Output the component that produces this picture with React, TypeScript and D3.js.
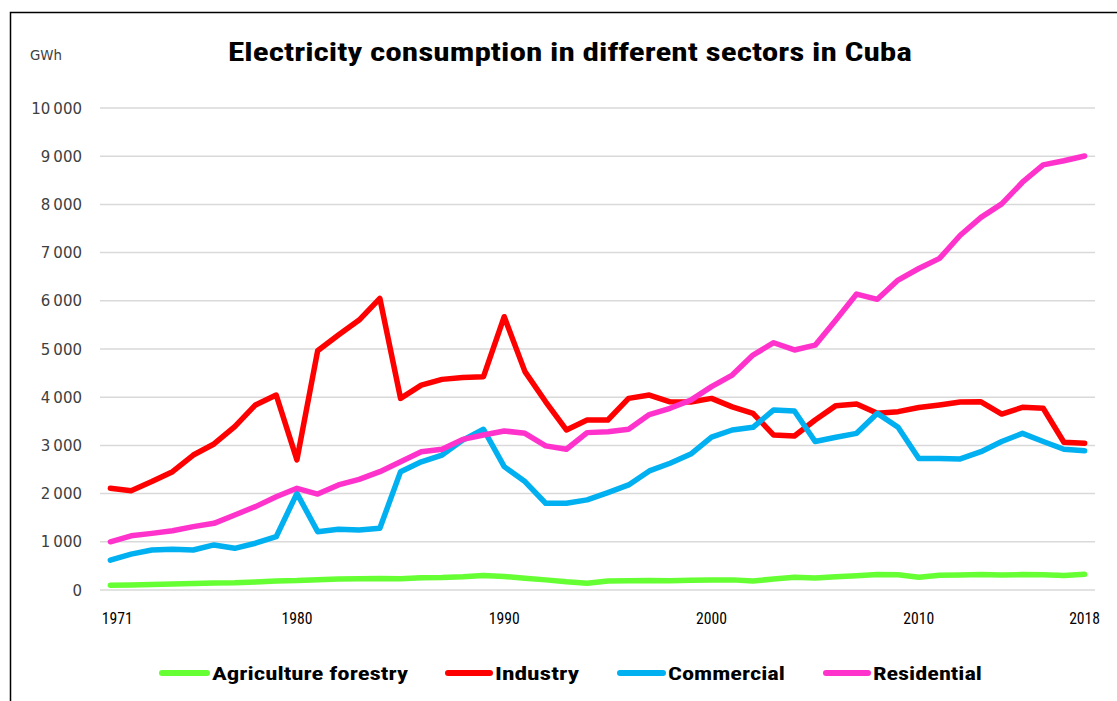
import React from "react";
import * as d3 from "d3";

const years = [1971, 1972, 1973, 1974, 1975, 1976, 1977, 1978, 1979, 1980, 1981, 1982, 1983, 1984, 1985, 1986, 1987, 1988, 1989, 1990, 1991, 1992, 1993, 1994, 1995, 1996, 1997, 1998, 1999, 2000, 2001, 2002, 2003, 2004, 2005, 2006, 2007, 2008, 2009, 2010, 2011, 2012, 2013, 2014, 2015, 2016, 2017, 2018];

const agriculture = [100, 105, 115, 125, 135, 145, 150, 165, 185, 195, 215, 230, 235, 240, 235, 255, 260, 275, 300, 280, 245, 210, 170, 140, 185, 190, 195, 190, 200, 205, 210, 185, 230, 265, 250, 275, 295, 320, 315, 265, 305, 310, 320, 310, 320, 315, 300, 325];

const industry = [2110, 2060, 2250, 2455, 2800, 3030, 3390, 3840, 4045, 2700, 4965, 5290, 5600, 6050, 3975, 4250, 4370, 4410, 4425, 5670, 4530, 3905, 3320, 3527, 3527, 3975, 4045, 3905, 3900, 3975, 3800, 3665, 3215, 3195, 3527, 3825, 3860, 3665, 3700, 3785, 3840, 3900, 3905, 3650, 3790, 3770, 3065, 3045];

const commercial = [620, 745, 830, 845, 830, 935, 865, 970, 1105, 2005, 1210, 1260, 1245, 1280, 2455, 2660, 2800, 3110, 3335, 2560, 2250, 1800, 1800, 1870, 2020, 2180, 2470, 2630, 2820, 3170, 3320, 3375, 3735, 3715, 3080, 3170, 3250, 3665, 3375, 2730, 2730, 2720, 2870, 3080, 3250, 3080, 2920, 2890];

const residential = [1000, 1125, 1175, 1230, 1315, 1383, 1555, 1730, 1935, 2110, 1990, 2180, 2295, 2455, 2660, 2870, 2920, 3125, 3215, 3300, 3250, 2990, 2920, 3265, 3285, 3335, 3640, 3770, 3940, 4220, 4460, 4875, 5130, 4980, 5080, 5600, 6140, 6030, 6430, 6670, 6880, 7360, 7730, 8010, 8460, 8820, 8905, 9005];

const yTicks = [0, 1000, 2000, 3000, 4000, 5000, 6000, 7000, 8000, 9000, 10000];
const xTickYears = [1971, 1980, 1990, 2000, 2010, 2018];

const seriesNames = ["Agriculture forestry", "Industry", "Commercial", "Residential"];
const seriesData = [agriculture, industry, commercial, residential];
const seriesColors = ["#66FF33", "#FF0000", "#00B0F0", "#FF33CC"];

const legendLayout = [
  { lx1: 162, lx2: 207, tx: 212, tw: 196 },
  { lx1: 448, lx2: 490, tx: 495, tw: 84 },
  { lx1: 620, lx2: 663, tx: 668, tw: 117 },
  { lx1: 826, lx2: 868, tx: 873, tw: 109 },
];

const fmt = (v: number) => {
  const s = d3.format(",")(v);
  return s.replace(/,/g, "\u2009");
};

export default function App() {
  const W = 1117;
  const H = 701;
  const left = 100;
  const right = 1095;
  const top = 108;
  const bottom = 590;

  const x = d3.scaleBand<number>().domain(years).range([left, right]).padding(0);
  const xc = (yr: number) => (x(yr) as number) + x.bandwidth() / 2;
  const y = d3.scaleLinear().domain([0, 10000]).range([bottom, top]);

  const line = d3
    .line<number>()
    .x((_, i) => xc(years[i]))
    .y((d) => y(d));

  const narrow = "'Liberation Sans Narrow', 'Roboto Condensed', Lato, sans-serif";

  return (
    <svg
      width={W}
      height={H}
      style={{ position: "absolute", left: 0, top: 0, background: "#fff" }}
    >
      <rect x={0} y={0} width={W} height={H} fill="#fff" />
      <rect x={10.5} y={12.5} width={W + 20} height={H + 20} fill="none" stroke="#000" strokeWidth={1.5} />

      <text
        x={228}
        y={61}
        fontFamily={narrow}
        fontWeight="bold"
        fontSize={25}
        fill="#000"
        textLength={684}
        lengthAdjust="spacingAndGlyphs"
      >
        Electricity consumption in different sectors in Cuba
      </text>

      <text x={30} y={60} fontFamily="'DejaVu Sans', sans-serif" fontSize={14} fill="#404040" textLength={32} lengthAdjust="spacingAndGlyphs">
        GWh
      </text>

      {yTicks.map((t) => (
        <g key={t}>
          <line x1={left} x2={right} y1={y(t)} y2={y(t)} stroke="#D9D9D9" strokeWidth={1.5} />
          <text
            x={82}
            y={y(t) + 5.5}
            textAnchor="end"
            fontFamily="'DejaVu Sans', sans-serif"
            fontSize={15}
            fill="#404040"
          >
            {fmt(t)}
          </text>
        </g>
      ))}

      {xTickYears.map((yr) => (
        <text
          key={yr}
          x={xc(yr) + (yr === 1971 ? 7 : 0)}
          y={624}
          textAnchor="middle"
          fontFamily={narrow}
          fontSize={17}
          fill="#000"
          textLength={31}
          lengthAdjust="spacingAndGlyphs"
        >
          {yr}
        </text>
      ))}

      {seriesData.map((s, i) => (
        <path
          key={seriesNames[i]}
          d={line(s) as string}
          fill="none"
          stroke={seriesColors[i]}
          strokeWidth={5.5}
          strokeLinejoin="round"
          strokeLinecap="round"
        />
      ))}

      {seriesNames.map((n, i) => {
        const L = legendLayout[i];
        return (
          <g key={n}>
            <line x1={L.lx1} x2={L.lx2} y1={673} y2={673} stroke={seriesColors[i]} strokeWidth={6} strokeLinecap="round" />
            <text
              x={L.tx}
              y={680}
              fontFamily={narrow}
              fontWeight="bold"
              fontSize={19}
              fill="#000"
              textLength={L.tw}
              lengthAdjust="spacingAndGlyphs"
            >
              {n}
            </text>
          </g>
        );
      })}
    </svg>
  );
}
